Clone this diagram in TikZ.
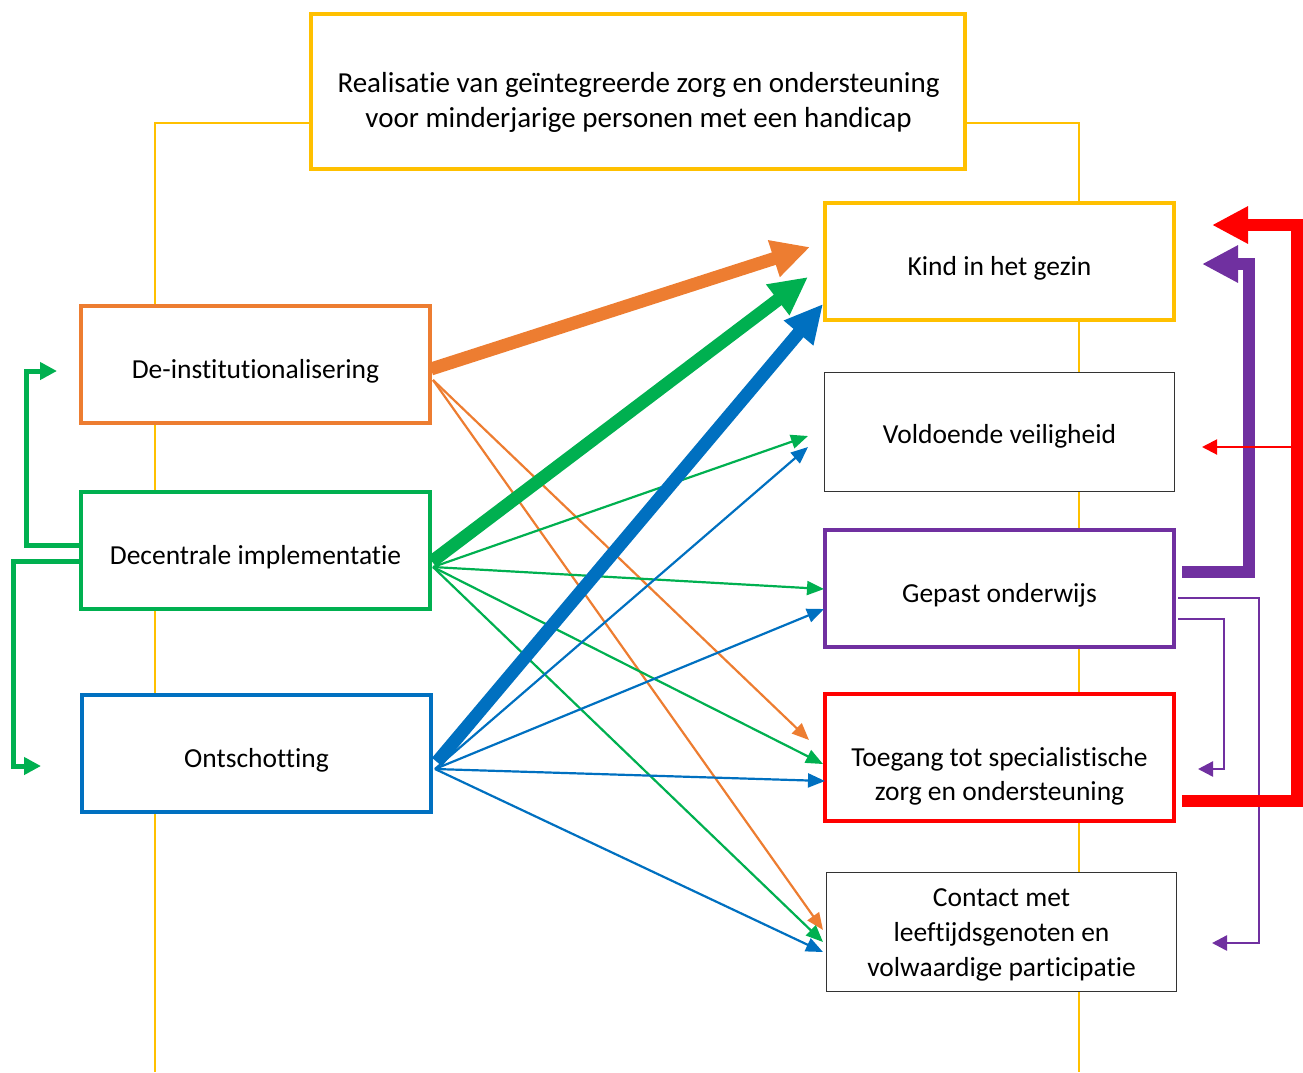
\documentclass[tikz,border=0pt]{standalone}
\usepackage{fontspec}
\setmainfont{Carlito}[Ligatures=NoCommon]
\usetikzlibrary{arrows.meta,calc}
\definecolor{cOrange}{HTML}{ED7D31}
\definecolor{cGreen}{HTML}{00B050}
\definecolor{cBlue}{HTML}{0070C0}
\definecolor{cYellow}{HTML}{FFC000}
\definecolor{cPurple}{HTML}{7030A0}
\definecolor{cRed}{HTML}{FF0000}
\begin{document}
\begin{tikzpicture}[x=1pt,y=-1pt,
  box/.style={draw, fill=white, line width=4pt, minimum width=349pt,
    minimum height=117pt, inner sep=0pt, outer sep=0pt},
  plainbox/.style={box, draw=black!80, line width=1pt, minimum width=350pt,
    minimum height=119pt},
  label text/.style={anchor=base, inner sep=0pt, align=center,
    font=\fontsize{27.5}{34.5}\selectfont},
  spine/.style={cYellow, line width=2pt},
  bigarrow/.style={line width=13pt, line join=miter,
    -{Triangle[length=38pt,width=36pt]}},
  linkarrow/.style={line width=2.2pt, -{Triangle[length=17pt,width=14pt]}},
  bracket/.style={cGreen, line width=5pt, line join=miter,
    -{Triangle[length=17pt,width=17pt]}},
  loopthick/.style={line width=12pt, line join=miter,
    -{Triangle[length=36pt,width=35pt]}},
  loopthin/.style={line width=2.5pt, line join=miter,
    -{Triangle[length=15pt,width=15pt]}},
]
\useasboundingbox (0,0) rectangle (1303,1072);

% goal box at the top (multi-line labels sit on their last baseline)
\node[box, draw=cYellow, minimum width=654pt, minimum height=155pt] (goal) at (638,91.5) {};
\node[label text, font=\fontsize{29}{35}\selectfont] (goalT) at (638.5,127)
  {Realisatie van geïntegreerde zorg en ondersteuning\\voor minderjarige personen met een handicap};

% thin yellow spines running down both columns
\coordinate (spineL) at (155,1072);
\coordinate (spineR) at (1079,1072);
\draw[spine] ($(goal.west)+(0,31.5)$) -| (spineL);
\draw[spine] ($(goal.east)+(0,31.5)$) -| (spineR);

% left column: strategies
\node[box, draw=cOrange] (deinst) at (255.5,364.5) {};
\node[box, draw=cGreen]  (decent) at (255.5,550.5) {};
\node[box, draw=cBlue]   (ontsch) at (256.5,753.5) {};
\node[label text] (deinstT) at (255.5,378) {De-institutionalisering};
\node[label text] (decentT) at (255.5,564) {Decentrale implementatie};
\node[label text] (ontschT) at (256.5,767) {Ontschotting};

% right column: outcomes
\node[box, draw=cYellow] (kind)    at (999.5,261.5) {};
\node[plainbox]          (veilig)  at (999.5,431.5) {};
\node[box, draw=cPurple] (onderw)  at (999.5,588.5) {};
\node[box, draw=cRed, minimum height=127pt] (toegang) at (999.5,757.5) {};
\node[plainbox]          (contact) at (1001.5,932) {};
\node[label text] (kindT)    at (999.5,275) {Kind in het gezin};
\node[label text] (veiligT)  at (999.5,443) {Voldoende veiligheid};
\node[label text] (onderwT)  at (999.5,602) {Gepast onderwijs};
\node[label text, font=\fontsize{27.5}{33.5}\selectfont] (toegangT) at (999.5,800)
  {Toegang tot specialistische\\zorg en ondersteuning};
\node[label text, font=\fontsize{27.5}{35}\selectfont] (contactT) at (1001.5,976)
  {Contact met\\leeftijdsgenoten en\\volwaardige participatie};

% green brackets on the left
\coordinate (tipDe) at ($(deinst.west)+(-24,6.5)$);
\coordinate (tipOn) at ($(ontsch.west)+(-41,12.5)$);
\draw[bracket] ($(decent.west)+(0,-5.5)$) -- ++(-55,0) |- (tipDe);
\draw[bracket] ($(decent.west)+(0,10.5)$) -- ++(-68,0) |- (tipOn);

% thin links
\draw[linkarrow, cOrange] ($(deinst.east)+(3,15.5)$) -- ($(toegang.center)+(-190.5,-17.5)$);
\draw[linkarrow, cOrange] ($(deinst.east)+(3,15.5)$) -- ($(contact.center)+(-178.5,-2)$);
\draw[linkarrow, cGreen] ($(decent.east)+(3,16.5)$) -- ($(veilig.center)+(-191.5,4.5)$);
\draw[linkarrow, cGreen] ($(decent.east)+(3,16.5)$) -- ($(onderw.center)+(-175.5,0.5)$);
\draw[linkarrow, cGreen] ($(decent.east)+(3,16.5)$) -- ($(toegang.center)+(-176.5,6.5)$);
\draw[linkarrow, cGreen] ($(decent.east)+(3,16.5)$) -- ($(contact.center)+(-178.5,10)$);
\draw[linkarrow, cBlue] ($(ontsch.east)+(4,15.5)$) -- ($(veilig.center)+(-191.5,15.5)$);
\draw[linkarrow, cBlue] ($(ontsch.east)+(4,15.5)$) -- ($(onderw.center)+(-175.5,20.5)$);
\draw[linkarrow, cBlue] ($(ontsch.east)+(4,15.5)$) -- ($(toegang.center)+(-174.5,23.5)$);
\draw[linkarrow, cBlue] ($(ontsch.east)+(4,15.5)$) -- ($(contact.center)+(-178.5,20)$);

% main links into "Kind in het gezin"
\draw[bigarrow, cOrange] ($(deinst.east)+(1,4.5)$) -- ($(kind.center)+(-189.5,-14.5)$);
\draw[bigarrow, cGreen]  ($(decent.east)+(2,11)$) -- ($(kind.center)+(-191.5,15.5)$);
\draw[bigarrow, cBlue]   ($(ontsch.east)+(6,8.5)$) -- ($(kind.center)+(-176.5,42.5)$);

% feedback loops on the right
\coordinate (tipKindP) at ($(kind.east)+(28,2.5)$);
\coordinate (tipKindR) at ($(kind.east)+(38,-36.5)$);
\coordinate (tipVeil)  at ($(veilig.east)+(27.5,15.5)$);
\coordinate (tipToeg)  at ($(toegang.east)+(24,11.5)$);
\coordinate (tipCont)  at ($(contact.east)+(35.5,11)$);
\draw[loopthick, cPurple] ($(onderw.east)+(8,-16.5)$) -- ++(67,0) |- (tipKindP);
\draw[loopthin, cPurple] ($(onderw.east)+(4,9.5)$) -- ++(81,0) |- (tipCont);
\draw[loopthin, cPurple] ($(onderw.east)+(4,30.5)$) -- ++(46,0) |- (tipToeg);
\draw[loopthick, cRed] ($(toegang.east)+(8,43.5)$) -- ++(115,0) coordinate (redx) |- (tipKindR);
\draw[loopthin, cRed, line width=2pt] (redx |- tipVeil) -- (tipVeil);
\end{tikzpicture}
\end{document}
